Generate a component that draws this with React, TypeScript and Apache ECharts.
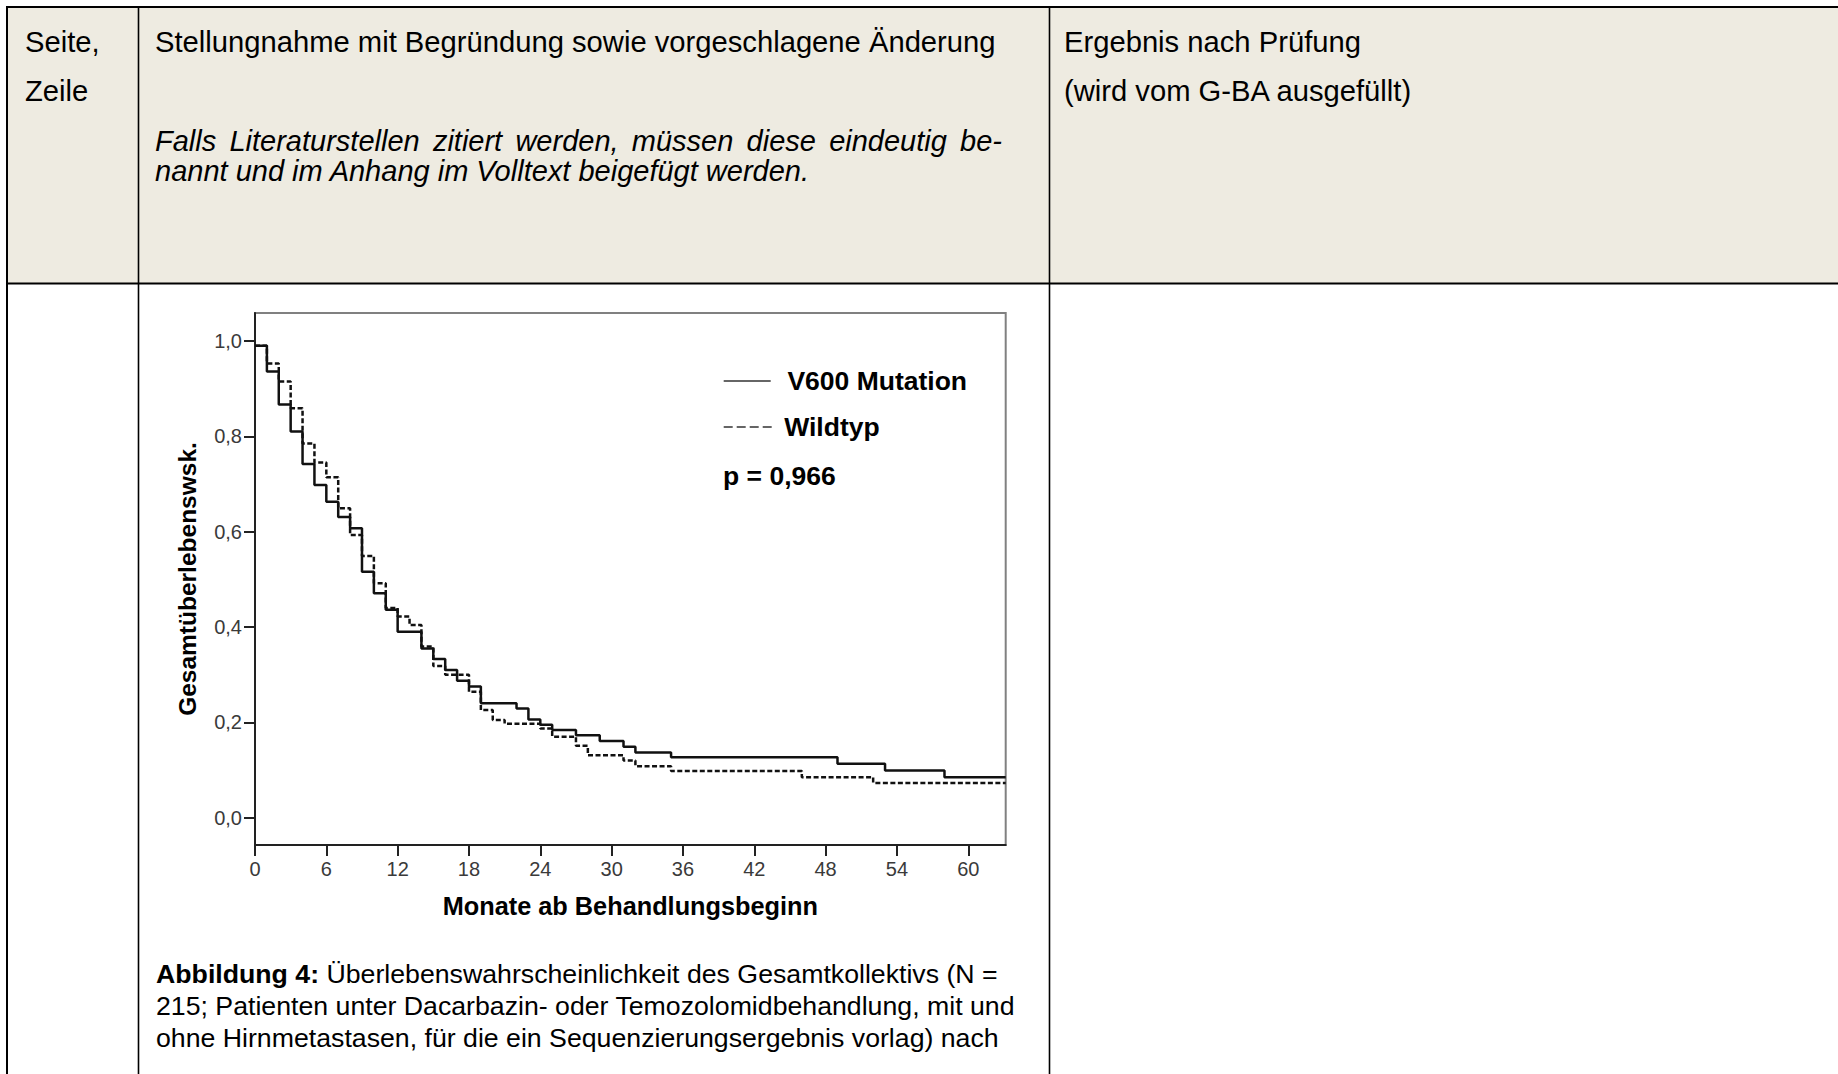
import React, { useEffect, useRef } from "react";
import * as echarts from "echarts";

// ---- Data ----
const SERIES_NAMES = ["V600 Mutation", "Wildtyp"];
const MONTHS_V600 = [0, 1, 2, 3, 4, 5, 6, 7, 8, 9, 10, 11, 12, 14, 15, 16, 17, 18, 19, 22, 23, 24, 25, 27, 29, 31, 32, 35, 49, 53, 58, 63.15];
const SURV_V600 = [0.99, 0.936, 0.867, 0.81, 0.742, 0.698, 0.663, 0.631, 0.607, 0.516, 0.471, 0.436, 0.39, 0.355, 0.333, 0.31, 0.287, 0.275, 0.24, 0.229, 0.206, 0.195, 0.184, 0.173, 0.161, 0.149, 0.137, 0.127, 0.113, 0.099, 0.085, 0.085];
const MONTHS_WILD = [0, 1, 2, 3, 4, 5, 6, 7, 8, 9, 10, 11, 12, 13, 14, 15, 16, 18, 19, 20, 21, 24, 25, 27, 28, 31, 32, 35, 46, 52, 63.15];
const SURV_WILD = [0.99, 0.953, 0.915, 0.859, 0.785, 0.745, 0.714, 0.649, 0.593, 0.549, 0.492, 0.44, 0.422, 0.404, 0.359, 0.318, 0.3, 0.264, 0.226, 0.205, 0.197, 0.187, 0.17, 0.151, 0.131, 0.12, 0.108, 0.098, 0.085, 0.073, 0.073];
const X_TICKS = [0, 6, 12, 18, 24, 30, 36, 42, 48, 54, 60];
const Y_TICKS = [0, 0.2, 0.4, 0.6, 0.8, 1.0];
const X_TITLE = "Monate ab Behandlungsbeginn";
const Y_TITLE = "Gesamtüberlebenswsk.";
const P_VALUE = "p = 0,966";

const HEADER_COL1 = ["Seite,", "Zeile"];
const HEADER_COL2 = "Stellungnahme mit Begründung sowie vorgeschlagene Änderung";
const HEADER_COL2_ITALIC_1 = "Falls Literaturstellen zitiert werden, müssen diese eindeutig be-";
const HEADER_COL2_ITALIC_2 = "nannt und im Anhang im Volltext beigefügt werden.";
const HEADER_COL3 = ["Ergebnis nach Prüfung", "(wird vom G-BA ausgefüllt)"];
const CAPTION_BOLD = "Abbildung 4:";
const CAPTION_LINES = [
  " Überlebenswahrscheinlichkeit des Gesamtkollektivs (N =",
  "215; Patienten unter Dacarbazin- oder Temozolomidbehandlung, mit und",
  "ohne Hirnmetastasen, für die ein Sequenzierungsergebnis vorlag) nach",
];

const FF = '"Liberation Sans", Arial, Helvetica, sans-serif';

function pairs(xs: number[], ys: number[]) {
  return xs.map((x, i) => [x, ys[i]]);
}

export default function App() {
  const ref = useRef<HTMLDivElement>(null);

  useEffect(() => {
    if (!ref.current) return;
    const chart = echarts.init(ref.current, null, { renderer: "svg" });

    // justified italic line
    const canvas = document.createElement("canvas");
    const ctx = canvas.getContext("2d")!;
    const italicFont = `italic 29px ${FF}`;
    ctx.font = italicFont;
    const words = HEADER_COL2_ITALIC_1.split(" ");
    const widths = words.map((w) => ctx.measureText(w).width);
    const lineStart = 155;
    const lineEnd = 1002;
    const totalW = widths.reduce((a, b) => a + b, 0);
    const gap = (lineEnd - lineStart - totalW) / (words.length - 1);
    let cx = lineStart;
    const justifiedWords: any[] = words.map((w, i) => {
      const el = {
        type: "text",
        style: { text: w, x: cx, y: 141, font: italicFont, fill: "#000", verticalAlign: "middle" },
      };
      cx += widths[i] + gap;
      return el;
    });

    const headerFont = `29.2px ${FF}`;
    const lineStyle = { stroke: "#000", lineWidth: 2 };
    const capFont = 26.7;

    const graphic: any[] = [
      { type: "rect", shape: { x: 7, y: 7, width: 1831, height: 277 }, style: { fill: "#EEEBE1" }, z: -10 },
      { type: "line", shape: { x1: 6, y1: 7, x2: 1838, y2: 7 }, style: lineStyle },
      { type: "line", shape: { x1: 7, y1: 6, x2: 7, y2: 1074 }, style: lineStyle },
      { type: "line", shape: { x1: 6, y1: 283.5, x2: 1838, y2: 283.5 }, style: lineStyle },
      { type: "line", shape: { x1: 138.5, y1: 6, x2: 138.5, y2: 1074 }, style: { stroke: "#000", lineWidth: 1.6 } },
      { type: "line", shape: { x1: 1049.5, y1: 6, x2: 1049.5, y2: 1074 }, style: { stroke: "#000", lineWidth: 1.6 } },
      { type: "text", style: { text: HEADER_COL1[0], x: 25, y: 41.8, font: headerFont, fill: "#000", verticalAlign: "middle" } },
      { type: "text", style: { text: HEADER_COL1[1], x: 25, y: 90.8, font: headerFont, fill: "#000", verticalAlign: "middle" } },
      { type: "text", style: { text: HEADER_COL2, x: 155, y: 41.8, font: headerFont, fill: "#000", verticalAlign: "middle" } },
      ...justifiedWords,
      { type: "text", style: { text: HEADER_COL2_ITALIC_2, x: 155, y: 171, font: italicFont, fill: "#000", verticalAlign: "middle" } },
      { type: "text", style: { text: HEADER_COL3[0], x: 1064, y: 41.8, font: headerFont, fill: "#000", verticalAlign: "middle" } },
      { type: "text", style: { text: HEADER_COL3[1], x: 1064, y: 90.8, font: headerFont, fill: "#000", verticalAlign: "middle" } },
      {
        type: "text",
        style: {
          text: `{b|${CAPTION_BOLD}}${CAPTION_LINES[0]}`,
          x: 156,
          y: 974,
          fontSize: capFont,
          fontFamily: FF,
          fill: "#000",
          verticalAlign: "middle",
          rich: { b: { fontSize: capFont, fontFamily: FF, fontWeight: "bold", fill: "#000" } },
        },
      },
      { type: "text", style: { text: CAPTION_LINES[1], x: 156, y: 1006, fontSize: capFont, fontFamily: FF, fill: "#000", verticalAlign: "middle" } },
      { type: "text", style: { text: CAPTION_LINES[2], x: 156, y: 1038, fontSize: capFont, fontFamily: FF, fill: "#000", verticalAlign: "middle" } },
      { type: "text", style: { text: P_VALUE, x: 723, y: 476, font: `bold 26.5px ${FF}`, fill: "#000", verticalAlign: "middle" } },
    ];

    const fmt = (v: number) => v.toFixed(1).replace(".", ",");

    const option: any = {
      animation: false,
      backgroundColor: "#fff",
      graphic,
      grid: {
        left: 255,
        top: 313,
        width: 750.7,
        height: 532,
        show: true,
        borderColor: "#808080",
        borderWidth: 2,
        backgroundColor: "transparent",
      },
      xAxis: {
        type: "value",
        min: 0,
        max: 63.15,
        name: X_TITLE,
        nameLocation: "middle",
        nameGap: 48.5,
        nameTextStyle: { fontFamily: FF, fontSize: 25.3, fontWeight: "bold", color: "#000" },
        axisLine: { show: true, onZero: false, lineStyle: { color: "#222", width: 2 } },
        axisTick: { show: true, length: 11, lineStyle: { color: "#222", width: 2 }, customValues: X_TICKS },
        axisLabel: { margin: 14, fontFamily: FF, fontSize: 20, color: "#3a3a3a", customValues: X_TICKS, formatter: (v: number) => String(v) },
        splitLine: { show: false },
      },
      yAxis: {
        type: "value",
        min: -0.0573,
        max: 1.0587,
        name: Y_TITLE,
        nameLocation: "middle",
        nameGap: 55,
        nameTextStyle: { fontFamily: FF, fontSize: 24.5, fontWeight: "bold", color: "#000" },
        axisLine: { show: true, onZero: false, lineStyle: { color: "#222", width: 2 } },
        axisTick: { show: true, length: 11, lineStyle: { color: "#222", width: 2 }, customValues: Y_TICKS },
        axisLabel: { margin: 13, fontFamily: FF, fontSize: 20, color: "#3a3a3a", customValues: Y_TICKS, formatter: fmt },
        splitLine: { show: false },
      },
      legend: [
        {
          data: [SERIES_NAMES[0]],
          left: 723,
          top: 362.5,
          padding: 0,
          itemWidth: 47,
          itemHeight: 30,
          selectedMode: false,
          lineStyle: { color: "#333", width: 1.4, type: "solid" },
          itemStyle: { color: "transparent", borderWidth: 0, opacity: 0 },
          textStyle: { fontFamily: FF, fontSize: 26.5, fontWeight: "bold", color: "#000", lineHeight: 30, padding: [7, 0, 0, 11.7] },
        },
        {
          data: [SERIES_NAMES[1]],
          left: 723,
          top: 411,
          padding: 0,
          itemWidth: 51,
          itemHeight: 30,
          selectedMode: false,
          lineStyle: { color: "#333", width: 1.4, type: [9, 4] },
          itemStyle: { color: "transparent", borderWidth: 0, opacity: 0 },
          textStyle: { fontFamily: FF, fontSize: 26.5, fontWeight: "bold", color: "#000", lineHeight: 30, padding: [2, 0, 0, 4.5] },
        },
      ],
      series: [
        {
          name: SERIES_NAMES[0],
          type: "line",
          step: "end",
          symbol: "none",
          data: pairs(MONTHS_V600, SURV_V600),
          lineStyle: { color: "#111", width: 2.5, type: "solid" },
          itemStyle: { color: "#111" },
          z: 3,
        },
        {
          name: SERIES_NAMES[1],
          type: "line",
          step: "end",
          symbol: "none",
          data: pairs(MONTHS_WILD, SURV_WILD),
          lineStyle: { color: "#111", width: 2.5, type: [5, 2.5] },
          itemStyle: { color: "#111" },
          z: 2,
        },
      ],
    };

    chart.setOption(option);
    return () => chart.dispose();
  }, []);

  return <div ref={ref} style={{ position: "absolute", left: 0, top: 0, width: 1838, height: 1074 }} />;
}
